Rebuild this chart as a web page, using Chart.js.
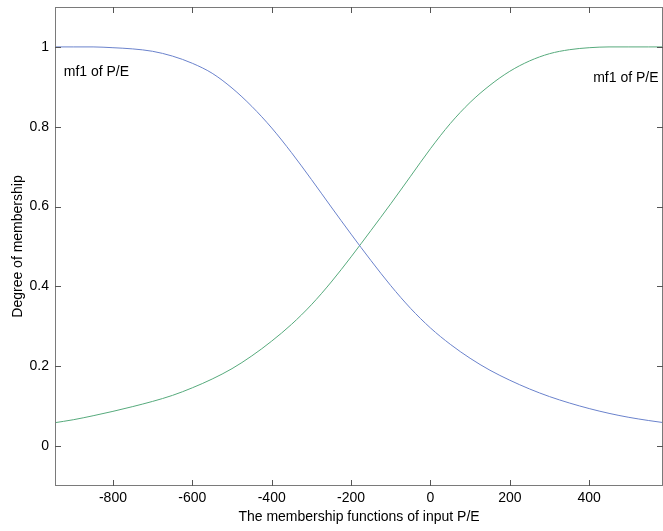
<!DOCTYPE html>
<html>
<head>
<meta charset="utf-8">
<script src="https://cdn.jsdelivr.net/npm/chart.js@4"></script>
<style>
  html, body { margin: 0; padding: 0; background: #fff; }
  #wrap { width: 663px; height: 531px; }
</style>
</head>
<body>
<div id="wrap"><canvas id="myChart" width="663" height="531"></canvas></div>
<script>
// input P/E sample points
var xValues = [-950, -900, -850, -800, -750, -700, -650, -600, -550, -500,
               -450, -400, -350, -300, -250, -200, -150, -100, -50, 0,
               50, 100, 150, 200, 250, 300, 350, 400, 450, 500, 550, 600];

// membership degree, falling curve (blue)
var mfFalling = [1.000, 1.000, 1.000, 0.998, 0.995, 0.989, 0.977, 0.959, 0.934, 0.897,
                 0.851, 0.797, 0.735, 0.668, 0.599, 0.531, 0.465, 0.402, 0.345, 0.296,
                 0.255, 0.220, 0.190, 0.165, 0.143, 0.124, 0.108, 0.094, 0.082, 0.072,
                 0.064, 0.057];

// membership degree, rising curve (green)
var mfRising = [0.058, 0.066, 0.076, 0.087, 0.099, 0.112, 0.127, 0.146, 0.168, 0.194,
                0.226, 0.263, 0.305, 0.354, 0.411, 0.474, 0.540, 0.607, 0.676, 0.745,
                0.808, 0.861, 0.904, 0.939, 0.965, 0.983, 0.993, 0.998, 1.000, 1.000,
                1.000, 1.000];

var xTicks = [-800, -600, -400, -200, 0, 200, 400];
var yTicks = [0, 0.2, 0.4, 0.6, 0.8, 1];

// text labels on the plot: [x, y, text]
var mfLabels = [
  [-924, 0.936, 'mf1 of P/E'],
  [410, 0.921, 'mf1 of P/E']
];

var FONT = '"Liberation Sans", Arial, Helvetica, sans-serif';

function toPoints(xs, ys) {
  return xs.map(function(x, i) { return { x: x, y: ys[i] }; });
}

// box round the axes, with ticks pointing inward on all four sides
var framePlugin = {
  id: 'frame',
  afterDraw: function(chart) {
    var ctx = chart.ctx, a = chart.chartArea;
    var xs = chart.scales.x, ys = chart.scales.y;
    var tl = 6;
    ctx.save();
    ctx.strokeStyle = '#7a7a7a';
    ctx.lineWidth = 1;
    ctx.strokeRect(a.left + 0.5, a.top + 0.5, a.right - a.left - 1, a.bottom - a.top - 1);
    ctx.strokeStyle = '#555';
    ctx.beginPath();
    xTicks.forEach(function(v) {
      var px = Math.round(xs.getPixelForValue(v)) + 0.5;
      ctx.moveTo(px, a.bottom); ctx.lineTo(px, a.bottom - tl);
      ctx.moveTo(px, a.top); ctx.lineTo(px, a.top + tl);
    });
    yTicks.forEach(function(v) {
      var py = Math.round(ys.getPixelForValue(v)) + 0.5;
      ctx.moveTo(a.left, py); ctx.lineTo(a.left + tl, py);
      ctx.moveTo(a.right, py); ctx.lineTo(a.right - tl, py);
    });
    ctx.stroke();

    ctx.fillStyle = '#000';
    ctx.font = '14px ' + FONT;
    ctx.textBaseline = 'middle';
    ctx.textAlign = 'left';
    mfLabels.forEach(function(l) {
      ctx.fillText(l[2], xs.getPixelForValue(l[0]), ys.getPixelForValue(l[1]));
    });
    ctx.restore();
  }
};

var ctx = document.getElementById('myChart').getContext('2d');

var chart = new Chart(ctx, {
  type: 'line',
  data: {
    datasets: [
      {
        label: 'mf falling',
        data: toPoints(xValues, mfFalling),
        borderColor: '#6a82cc',
        borderWidth: 1,
        pointRadius: 0,
        fill: false,
        cubicInterpolationMode: 'monotone'
      },
      {
        label: 'mf rising',
        data: toPoints(xValues, mfRising),
        borderColor: '#56aa7c',
        borderWidth: 1,
        pointRadius: 0,
        fill: false,
        cubicInterpolationMode: 'monotone'
      }
    ]
  },
  options: {
    responsive: false,
    animation: false,
    layout: { padding: { top: 7, right: 0, left: 0, bottom: 0 } },
    plugins: {
      legend: { display: false },
      tooltip: { enabled: false }
    },
    scales: {
      x: {
        type: 'linear',
        min: -946,
        max: 586,
        grid: { display: false, drawTicks: false },
        border: { display: false },
        afterBuildTicks: function(scale) {
          scale.ticks = xTicks.map(function(v) { return { value: v }; });
        },
        afterFit: function(scale) {
          scale.height = 45;
          scale.paddingLeft = 0;
          scale.paddingRight = 0;
        },
        ticks: {
          color: '#000',
          font: { family: FONT, size: 14 },
          padding: 4,
          maxRotation: 0,
          callback: function(v) { return String(v); }
        },
        title: {
          display: true,
          text: 'The membership functions of input P/E',
          color: '#000',
          font: { family: FONT, size: 14 },
          padding: { top: 0, bottom: 5 }
        }
      },
      y: {
        type: 'linear',
        min: -0.1,
        max: 1.1,
        grid: { display: false, drawTicks: false },
        border: { display: false },
        afterBuildTicks: function(scale) {
          scale.ticks = yTicks.map(function(v) { return { value: v }; });
        },
        afterFit: function(scale) {
          scale.width = 55;
          scale.paddingTop = 0;
          scale.paddingBottom = 0;
        },
        ticks: {
          color: '#000',
          font: { family: FONT, size: 14 },
          padding: 6,
          callback: function(v) { return String(Math.round(v * 10) / 10); }
        },
        title: {
          display: true,
          text: 'Degree of membership',
          color: '#000',
          font: { family: FONT, size: 14 },
          padding: { top: 10, bottom: 0 }
        }
      }
    }
  },
  plugins: [framePlugin]
});
</script>
</body>
</html>
